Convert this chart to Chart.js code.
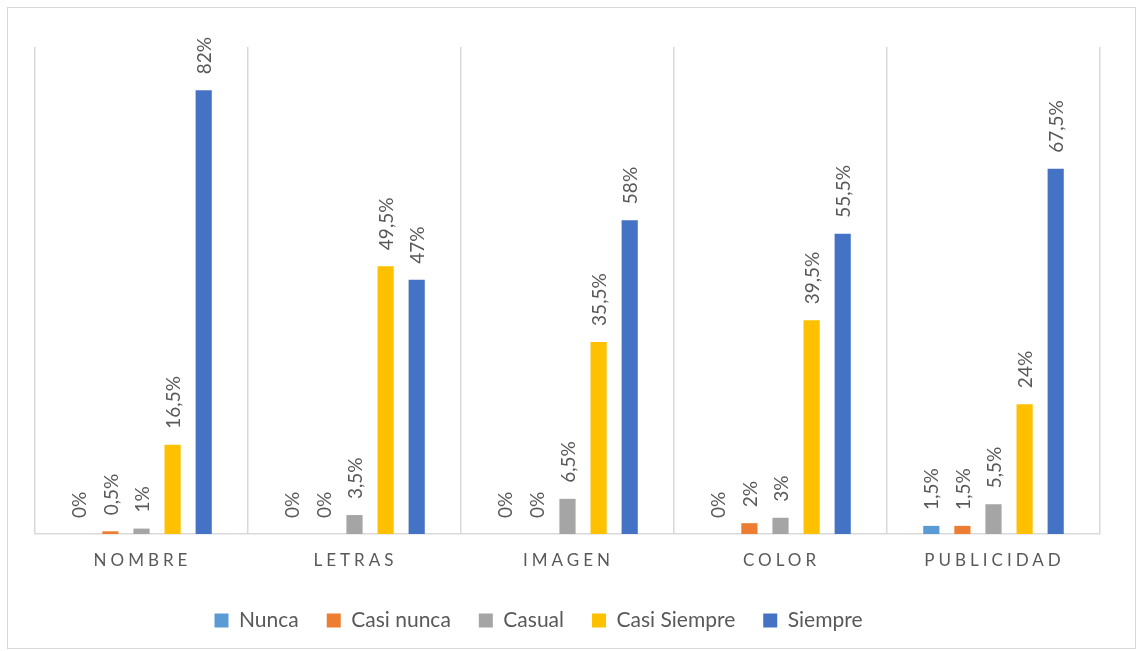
<!DOCTYPE html>
<html>
<head>
<meta charset="utf-8">
<script src="https://cdn.jsdelivr.net/npm/chart.js@4"></script>
<style>
  body { margin: 0; background: #fff; }
  #wrap { position: relative; width: 1143px; height: 651px; }
  #frame { position: absolute; left: 7px; top: 7px; width: 1127px; height: 640px; border: 1px solid #d9d9d9; pointer-events: none; }
  canvas { position: absolute; left: 0; top: 0; }
</style>
</head>
<body>
<div id="wrap">
  <canvas id="barChart" width="1143" height="651"></canvas>
  <div id="frame"></div>
</div>
<script>
let categories = ['NOMBRE', 'LETRAS', 'IMAGEN', 'COLOR', 'PUBLICIDAD'];
let seriesNames = ['Nunca', 'Casi nunca', 'Casual', 'Casi Siempre', 'Siempre'];
let colorHex = ['#5B9BD5', '#ED7D31', '#A5A5A5', '#FFC000', '#4472C4'];

let nunca = [0, 0, 0, 0, 1.5];
let casiNunca = [0.5, 0, 0, 2, 1.5];
let casual = [1, 3.5, 6.5, 3, 5.5];
let casiSiempre = [16.5, 49.5, 35.5, 39.5, 24];
let siempre = [82, 47, 58, 55.5, 67.5];

let seriesValues = [nunca, casiNunca, casual, casiSiempre, siempre];
let textGray = '#595959';

// rotated value labels above each bar + spaced category labels
const barLabels = {
  id: 'barLabels',
  afterLayout(chart) {
    // legend in the original sits a bit left of centre
    chart.legend.left -= 29;
    chart.legend.right -= 29;
  },
  afterDatasetsDraw(chart) {
    const c = chart.ctx;
    c.save();
    c.fillStyle = textGray;
    c.font = '19px Lato';
    c.textAlign = 'left';
    c.textBaseline = 'middle';
    chart.data.datasets.forEach((ds, i) => {
      chart.getDatasetMeta(i).data.forEach((bar, j) => {
        const txt = String(ds.data[j]).replace('.', ',') + '%';
        c.save();
        c.translate(bar.x, bar.y - 16);
        c.rotate(-Math.PI / 2);
        c.fillText(txt, 0, 1);
        c.restore();
      });
    });
    c.restore();
  },
  afterDraw(chart) {
    const c = chart.ctx;
    const xs = chart.scales.x;
    c.save();
    c.fillStyle = textGray;
    c.font = '17px Lato';
    c.letterSpacing = '4px';
    c.textAlign = 'center';
    c.textBaseline = 'middle';
    categories.forEach((cat, i) => {
      c.fillText(cat, xs.getPixelForValue(i) + 1, chart.chartArea.bottom + 27);
    });
    c.restore();
  }
};

const ctx = document.getElementById('barChart').getContext('2d');
const barChart = new Chart(ctx, {
  type: 'bar',
  data: {
    labels: categories,
    datasets: seriesNames.map((name, i) => ({
      label: name,
      data: seriesValues[i],
      backgroundColor: colorHex[i],
      categoryPercentage: 0.73,
      barPercentage: 0.52
    }))
  },
  options: {
    responsive: false,
    animation: false,
    layout: { padding: { left: 35, right: 43, top: 47, bottom: 10 } },
    scales: {
      x: {
        grid: { color: '#d9d9d9', lineWidth: 1.5, offset: true, drawTicks: false },
        border: { color: '#d9d9d9', width: 1.5 },
        ticks: { display: false },
        afterFit: (s) => { s.height = 48; }
      },
      y: {
        display: false,
        min: 0,
        max: 90
      }
    },
    plugins: {
      legend: {
        position: 'bottom',
        labels: {
          boxWidth: 14,
          boxHeight: 14,
          padding: 28,
          color: textGray,
          font: { family: 'Lato', size: 21 }
        }
      },
      tooltip: { enabled: false }
    }
  },
  plugins: [barLabels]
});
</script>
</body>
</html>
